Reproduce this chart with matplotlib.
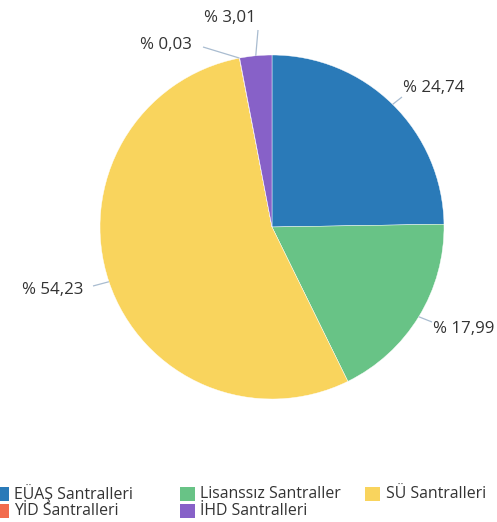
import numpy as np
import matplotlib
matplotlib.use("Agg")
import matplotlib.pyplot as plt
from matplotlib.patches import Rectangle

categories = ["EÜAŞ Santralleri", "Lisanssız Santraller", "SÜ Santralleri", "YİD Santralleri", "İHD Santralleri"]
values = [24.74, 17.99, 54.23, 0.03, 3.01]
labels = ["% 24,74", "% 17,99", "% 54,23", "% 0,03", "% 3,01"]
colors = ["#2a7ab8", "#68c386", "#f9d45d", "#f26b4d", "#8761c8"]

W, H = 497, 522
fig = plt.figure(figsize=(W / 100, H / 100), dpi=100)
ax = fig.add_axes([0, 0, 1, 1])

cx, cy, R = 272, H - 227, 172
wedges, _ = ax.pie(values, colors=colors, startangle=90, counterclock=False,
                   center=(cx, cy), radius=R, frame=True,
                   wedgeprops=dict(edgecolor="white", linewidth=0.3))
ax.set_xlim(0, W)
ax.set_ylim(0, H)
ax.set_aspect("equal")
ax.axis("off")

font = "Open Sans"
tc = "#333333"
lc = "#a9bcd0"

# label placement (layout): text x, text y (px from top), alignment, connector end
placements = [
    (403, 88, "left", (402, 97)),
    (433, 329, "left", (432, 322)),
    (83, 290, "right", (93, 286)),
    (192, 45, "right", (203, 47)),
    (230, 18, "center", (258, 30)),
]
for w, lab, (tx, ty, ha, (jx, jy)) in zip(wedges, labels, placements):
    ang = np.deg2rad((w.theta1 + w.theta2) / 2)
    ex, ey = cx + R * np.cos(ang), cy + R * np.sin(ang)
    ax.plot([ex, jx], [ey, H - jy], color=lc, lw=0.9, solid_capstyle="butt")
    ax.text(tx, H - ty, lab, ha=ha, va="center", fontsize=12.2, color=tc, family=font)

# legend
leg_pos = [(-6, 494), (180, 494), (365, 494), (-6, 511), (180, 511)]
for cat, col, (lx, ly) in zip(categories, colors, leg_pos):
    ax.add_patch(Rectangle((lx, H - ly - 7), 15, 14, facecolor=col, edgecolor="none", clip_on=False))
    ax.text(lx + 20.5, H - ly, cat, ha="left", va="center", fontsize=11.4, color=tc, family=font)

fig.savefig("out.png", dpi=100)
